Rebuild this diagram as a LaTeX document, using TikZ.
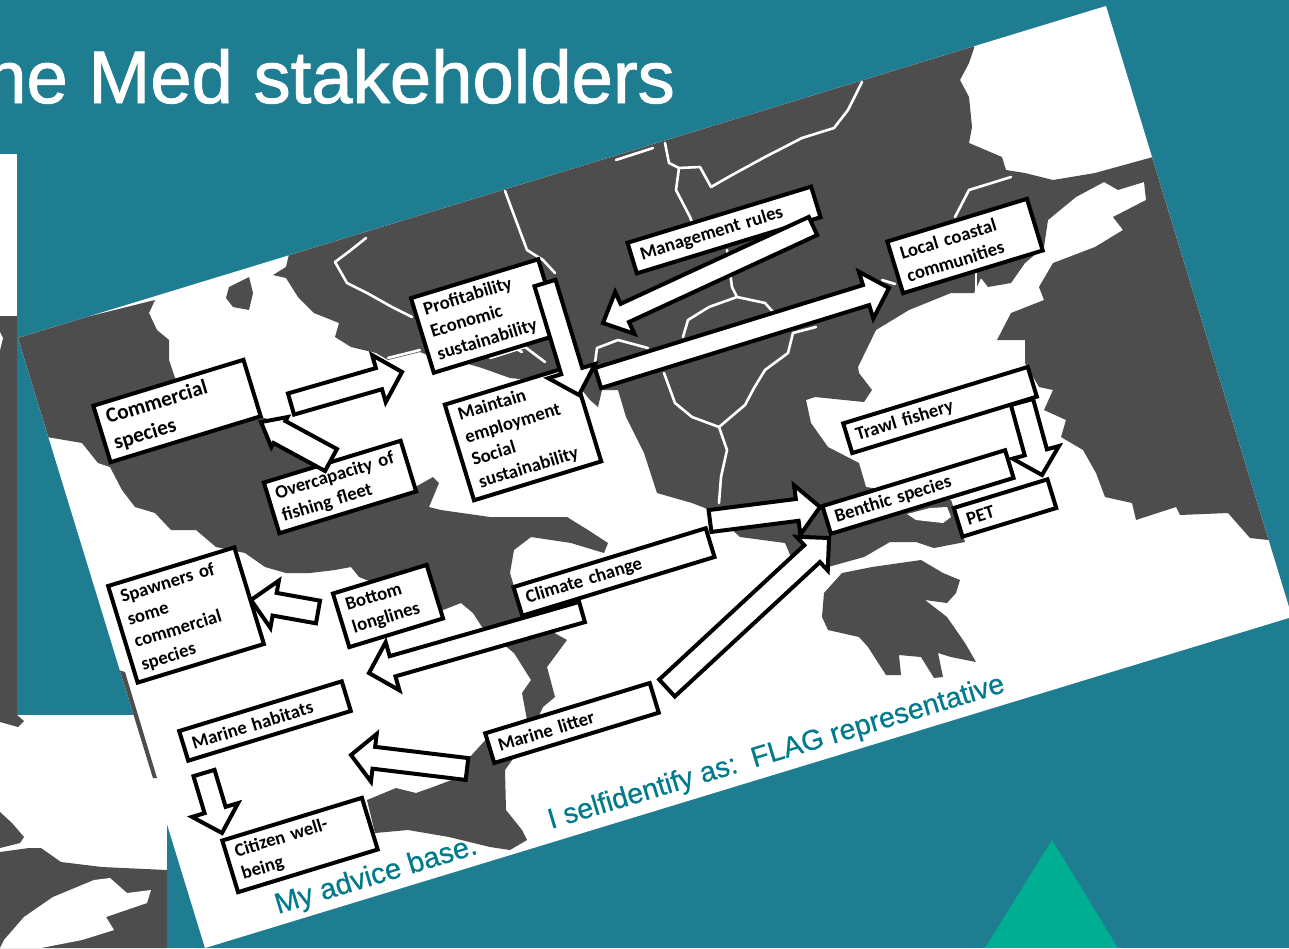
\documentclass[tikz,border=0pt]{standalone}
\usepackage{fontspec}
\setmainfont{Carlito}
\newfontfamily\arialish[FakeBold=0.5]{Liberation Sans}
\newfontfamily\arialtitle[FakeBold=1.2]{Liberation Sans}
\usetikzlibrary{calc}
\definecolor{tealbg}{RGB}{31,125,146}
\definecolor{mapgray}{RGB}{77,77,77}
\definecolor{tealtext}{RGB}{0,122,140}
\definecolor{greentri}{RGB}{0,174,146}
\tikzset{
  stakebox/.style={draw=black,fill=white,line width=4pt,rotate=17,align=left,inner xsep=9pt,inner ysep=0pt,font=\bfseries\fontsize{18.7}{23.5}\selectfont},
  blockarrow/.style={draw=black,fill=white,line width=4pt,line join=miter,miter limit=6},
  mapfill/.style={fill=mapgray,draw=none},
  mapline/.style={draw=white,line width=2.6pt,line join=round,line cap=round},
  slidetext/.style={text=tealtext,font=\arialish\fontsize{29}{34}\selectfont,rotate=16.8,anchor=base west,inner sep=0pt}
}
\newcommand{\barrow}[5]{%
  \coordinate (neck#1) at ($(#2)!#5pt!(#1)$);
  \draw[blockarrow] ($(#1)!#3pt!90:(#2)$) -- ($(neck#1)!#3pt!-90:(#1)$) -- ($(neck#1)!#4pt!-90:(#1)$) -- (#2)
    -- ($(neck#1)!#4pt!90:(#1)$) -- ($(neck#1)!#3pt!90:(#1)$) -- ($(#1)!#3pt!-90:(#2)$) -- cycle;
}
\begin{document}
\begin{tikzpicture}[x=1pt,y=-1pt]
\useasboundingbox (0,0) rectangle (1289,948);
\begin{scope}
\clip (0,0) rectangle (1289,948);
\fill[tealbg] (0,0) rectangle (1289,948);
% green triangle
\fill[greentri] (1052,840) -- (1118,948) -- (985,948) -- cycle;
% left remnant slide
\fill[white] (0,154) rectangle (17,316);
\fill[mapgray] (0,316) rectangle (17,720);
\fill[white] (0,332) -- (3,338) -- (0,350) -- cycle;
\fill[white] (0,715) rectangle (167,948);
\fill[mapgray] (0,812) -- (12,823) -- (24,837) -- (20,843) -- (0,848) -- cycle;
\fill[mapgray] (0,852) -- (29,848) -- (41,848) -- (61,862) -- (102,867) -- (167,870) -- (167,948) -- (0,948) -- cycle;
\fill[white] (4,940) -- (24,917) -- (53,897) -- (94,880) -- (110,878) -- (127,893) -- (151,890) -- (147,903) -- (106,917) -- (114,930) -- (82,940) -- (41,948) -- (0,948) -- cycle;
\fill[mapgray] (0,715) -- (17,715) -- (24,721) -- (18,727) -- (0,722) -- cycle;
% sheet
\fill[white] (18,338) -- (1106,6) -- (1292,617) -- (205,948) -- cycle;
\begin{scope}
\clip (18,338) -- (1106,6) -- (1292,617) -- (205,948) -- cycle;
% left and southern land
\path[mapfill] (10,336) -- (155,300) -- (149,313) -- (157,330) -- (169,340) -- (169,360) -- (175,378) -- (262,417) -- (282,425) -- (310,455) -- (320,470) -- (410,490) -- (433,477) -- (439,483) -- (429,507) -- (441,510) -- (490,517) -- (531,517) -- (567,517) -- (588,530) -- (608,543) -- (604,553) -- (571,543) -- (531,537) -- (514,550) -- (510,573) -- (518,600) -- (540,625) -- (567,640) -- (547,667) -- (555,697) -- (543,707) -- (530,735) -- (505,770) -- (506,810) -- (522,830) -- (527,840) -- (510,850) -- (490,847) -- (449,837) -- (408,830) -- (375,833) -- (367,800) -- (396,788) -- (416,793) -- (433,787) -- (465,775) -- (469,758) -- (490,735) -- (527,720) -- (522,693) -- (531,680) -- (514,653) -- (482,627) -- (473,613) -- (461,603) -- (443,610) -- (359,577) -- (351,567) -- (335,570) -- (310,573) -- (286,573) -- (265,567) -- (245,553) -- (216,547) -- (196,530) -- (171,530) -- (155,513) -- (135,507) -- (122,490) -- (110,467) -- (98,463) -- (82,443) -- (47,437) -- (10,420) -- cycle;
% islet
\path[mapfill] (229,287) -- (249,277) -- (253,293) -- (249,310) -- (233,307) -- (226,298) -- cycle;
% sliver along the left edge
\path[mapfill] (119,670) -- (125,672) -- (157,778) -- (152,778) -- cycle;
% northern land
\path[mapfill] (290,250) -- (974,40) -- (974,48) -- (969,63) -- (960,80) -- (969,97) -- (972,127) -- (969,143) -- (1002,157) -- (1006,170) -- (1025,173) -- (1053,180) -- (1095,173) -- (1153,157) -- (1300,157) -- (1300,540) -- (1268,540) -- (1250,538) -- (1228,513) -- (1180,515) -- (1176,507) -- (1136,520) -- (1132,503) -- (1105,497) -- (1096,473) -- (1083,450) -- (1061,437) -- (1066,420) -- (1044,410) -- (1053,390) -- (1039,387) -- (1025,363) -- (1025,340) -- (997,340) -- (1011,313) -- (1044,300) -- (1039,287) -- (1053,263) -- (1095,247) -- (1123,230) -- (1113,217) -- (1146,200) -- (1144,182) -- (1118,190) -- (1104,182) -- (1076,197) -- (1048,220) -- (1044,247) -- (1025,263) -- (1011,283) -- (988,287) -- (981,278) -- (974,293) -- (951,293) -- (909,310) -- (876,330) -- (858,367) -- (859,373) -- (872,390) -- (864,402) -- (815,397) -- (806,400) -- (811,423) -- (828,447) -- (859,463) -- (866,487) -- (951,500) -- (965,542) -- (934,548) -- (916,542) -- (890,542) -- (864,557) -- (828,567) -- (806,557) -- (791,557) -- (785,543) -- (740,537) -- (710,510) -- (692,503) -- (657,493) -- (644,453) -- (626,417) -- (618,390) -- (602,390) -- (598,407) -- (590,400) -- (578,385) -- (510,378) -- (482,368) -- (465,363) -- (440,360) -- (420,352) -- (388,360) -- (376,353) -- (351,347) -- (335,337) -- (339,323) -- (314,313) -- (298,297) -- (286,278) -- (273,275) -- (286,267) -- cycle;
\fill[white] (907,514) -- (930,508) -- (947,507) -- (951,517) -- (943,523) -- (916,520) -- cycle;
% island in the south
\path[mapfill] (824,593) -- (842,573) -- (872,567) -- (921,560) -- (943,573) -- (960,580) -- (956,593) -- (947,603) -- (925,600) -- (947,617) -- (965,643) -- (976,662) -- (951,657) -- (938,653) -- (943,677) -- (934,678) -- (921,657) -- (899,655) -- (901,675) -- (886,675) -- (868,647) -- (859,637) -- (828,630) -- (822,617) -- cycle;
% borders
\draw[mapline] (366,238) -- (351,250) -- (335,262) -- (347,283) -- (367,293) -- (392,307) -- (412,317);
\draw[mapline] (388,358) -- (420,350);
\draw[mapline] (505,191) -- (527,250) -- (543,260) -- (555,273);
\draw[mapline] (490,358) -- (525,347) -- (545,362);
\draw[mapline] (500,340) -- (522,352);
\draw[mapline] (862,82) -- (848,110) -- (834,128) -- (802,138) -- (765,157) -- (732,175) -- (711,187) -- (700,167) -- (679,168) -- (669,163) -- (665,143);
\draw[mapline] (616,160) -- (653,148);
\draw[mapline] (679,168) -- (676,190) -- (690,217) -- (697,235);
\draw[mapline] (727,250) -- (732,287) -- (737,297) -- (765,303) -- (774,313);
\draw[mapline] (737,297) -- (709,307) -- (688,320) -- (683,337);
\draw[mapline] (595,363) -- (597,348) -- (618,340) -- (648,348);
\draw[mapline] (816,327) -- (793,333) -- (788,353) -- (765,370) -- (754,388) -- (745,405) -- (719,427) -- (692,417) -- (675,403) -- (664,373);
\draw[mapline] (719,427) -- (727,450) -- (721,477) -- (719,503);
\draw[mapline] (1011,177) -- (969,190) -- (955,217);
\draw[mapline] (882,280) -- (895,284);
\draw[mapline] (976,270) -- (976,294);
\end{scope}
% title
\node[anchor=base west,inner sep=0pt,text=white,font=\arialtitle\fontsize{74.3}{80}\selectfont] (title) at (-15,103) {ne Med stakeholders};
\end{scope}
\node[slidetext] (adv) at (278,914) {My advice base.};
\node[slidetext,font=\arialish\fontsize{28.5}{34}\selectfont] (flag) at (551,829) {I selfidentify as:~~FLAG representative};
% stakeholder boxes
\node[stakebox,text width=139pt,minimum height=59pt,font=\bfseries\fontsize{21.3}{27}\selectfont] (comm) at (177,411) {Commercial\\species};
\node[stakebox,text width=115pt,minimum height=78pt] (prof) at (486,316) {Profitability\\Economic\\sustainability};
\node[stakebox,text width=113pt,inner xsep=10pt,minimum height=100pt] (main) at (523,433) {Maintain\\employment\\Social\\sustainability};
\node[stakebox,text width=127pt,inner xsep=8pt,minimum height=53pt] (over) at (340,487) {Overcapacity of\\fishing fleet};
\node[stakebox,text width=114pt,minimum height=101pt] (spaw) at (186,615) {Spawners of\\some\\commercial\\species};
\node[stakebox,text width=80pt,minimum height=56pt] (bott) at (388,606) {Bottom\\longlines};
\node[stakebox,text width=183pt,minimum height=30pt] (clim) at (614,572) {Climate change};
\node[stakebox,text width=152pt,minimum height=31pt] (habi) at (265,721) {Marine habitats};
\node[stakebox,text width=154pt,minimum height=31pt] (litt) at (572,723) {Marine litter};
\node[stakebox,text width=128pt,minimum height=54pt] (citi) at (300,845) {Citizen well-\\being};
\node[stakebox,text width=174pt,minimum height=32pt] (mgmt) at (724,230) {Management rules};
\node[stakebox,text width=128pt,minimum height=54pt] (locl) at (965,246) {Local coastal\\communities};
\node[stakebox,text width=175pt,minimum height=31pt] (traw) at (940,410) {Trawl fishery};
\node[stakebox,text width=173pt,minimum height=29pt] (bent) at (918,492) {Benthic species};
\node[stakebox,text width=80pt,minimum height=30pt] (pet) at (1005,508) {PET};
% connector ends
\coordinate (a1t) at (291,404);  \coordinate (a1h) at (402,372);
\coordinate (a2t) at (331,460);  \coordinate (a2h) at (261,422);
\coordinate (a3t) at (545,283);  \coordinate (a3h) at (579,395);
\coordinate (a4t) at (813,226);  \coordinate (a4h) at (603,323);
\coordinate (a5t) at (598,378);  \coordinate (a5h) at (889,288);
\coordinate (a6t) at (710,521);  \coordinate (a6h) at (820,507);
\coordinate (a7t) at (582,612);  \coordinate (a7h) at (369,673);
\coordinate (a8t) at (318,612);  \coordinate (a8h) at (251,600);
\coordinate (a9t) at (467,769);  \coordinate (a9h) at (351,755);
\coordinate (a10t) at (204,773); \coordinate (a10h) at (222,833);
\coordinate (a11t) at (667,688); \coordinate (a11h) at (829,538);
\coordinate (a12t) at (1022,402);\coordinate (a12h) at (1042,475);
\barrow{a1t}{a1h}{11}{24.5}{24}
\barrow{a2t}{a2h}{12.5}{17}{21}
\barrow{a3t}{a3h}{11}{24.5}{25}
\barrow{a4t}{a4h}{10}{23}{24}
\barrow{a5t}{a5h}{10.5}{24.5}{24}
\barrow{a6t}{a6h}{11}{25}{23}
\barrow{a7t}{a7h}{10.5}{25}{24.5}
\barrow{a8t}{a8h}{11.5}{24}{24}
\barrow{a9t}{a9h}{11}{24}{23}
\barrow{a10t}{a10h}{11}{24}{24}
\barrow{a11t}{a11h}{11.5}{23}{23}
\barrow{a12t}{a12h}{11.5}{24}{23.5}
\end{tikzpicture}
\end{document}
